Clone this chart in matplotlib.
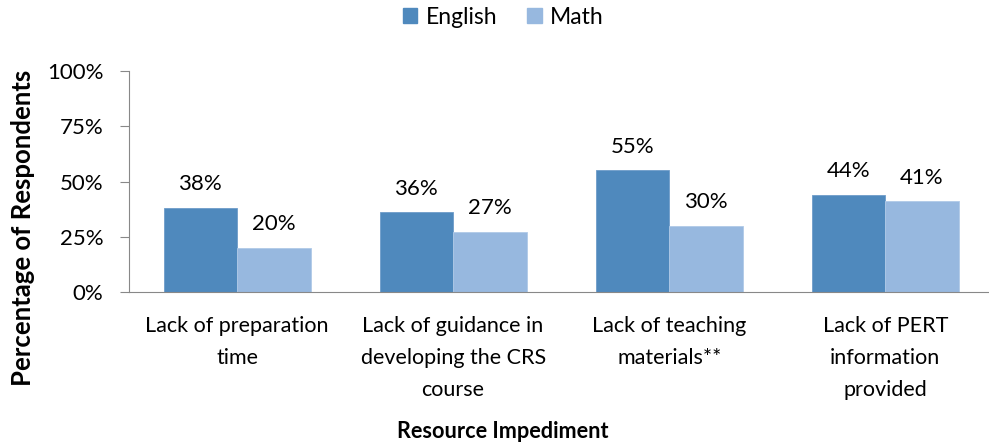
import numpy as np
import matplotlib
matplotlib.use('Agg')
import matplotlib.pyplot as plt
from matplotlib.patches import Patch

plt.rcParams['font.family'] = ['Lato', 'DejaVu Sans']

categories = ['Lack of preparation\ntime',
              'Lack of guidance in\ndeveloping the CRS\ncourse',
              'Lack of teaching\nmaterials**',
              'Lack of PERT\ninformation\nprovided']
english = [38, 36, 55, 44]
math_vals = [20, 27, 30, 41]
yticks = [0, 25, 50, 75, 100]

c_eng = '#4F89BD'
c_math = '#97B8DF'

W, H = 989, 446
fig = plt.figure(figsize=(W / 100, H / 100), dpi=100)
ax = fig.add_axes([129 / W, 1 - 292 / H, (W - 129) / W, (292 - 71) / H])

x = np.arange(len(categories))
bw = 0.34
b1 = ax.bar(x - bw / 2, english, bw, color=c_eng, edgecolor='#6E9CC9', linewidth=0.6)
b2 = ax.bar(x + bw / 2, math_vals, bw, color=c_math, edgecolor='#B0CAE8', linewidth=0.6)

for bars, vals in [(b1, english), (b2, math_vals)]:
    for b, v in zip(bars, vals):
        ax.annotate('%d%%' % v, (b.get_x() + b.get_width() / 2, v),
                    xytext=(0, 10), textcoords='offset points',
                    ha='center', va='bottom', fontsize=16, color='black')

ax.set_xlim(-0.5, 3.48)
ax.set_ylim(0, 100)
ax.set_yticks(yticks)
ax.set_yticklabels(['%d%%' % t for t in yticks], fontsize=16)
ax.set_xticks(x)
ax.set_xticklabels(categories, fontsize=15.5, linespacing=1.75)
ax.tick_params(axis='x', length=0, pad=17)
ax.tick_params(axis='y', length=6.5, direction='out', color='#888888', pad=12)

for s in ['top', 'right']:
    ax.spines[s].set_visible(False)
ax.spines['left'].set_color('#888888')
ax.spines['bottom'].set_color('#888888')

fig.text(23 / W, 1 - 228 / H, 'Percentage of Respondents', rotation=90,
         ha='center', va='center', fontsize=18.5, fontweight='bold')
fig.text(503 / W, 1 - 432 / H, 'Resource Impediment',
         ha='center', va='center', fontsize=15.6, fontweight='bold')

handles = [Patch(color=c_eng, label='English'), Patch(color=c_math, label='Math')]
fig.legend(handles=handles, loc='center', bbox_to_anchor=(503 / W, 1 - 17 / H),
           ncol=2, frameon=False, fontsize=16.5, handlelength=0.65, handleheight=0.65,
           handletextpad=0.35, columnspacing=1.3)

fig.savefig('out.png', dpi=100)
